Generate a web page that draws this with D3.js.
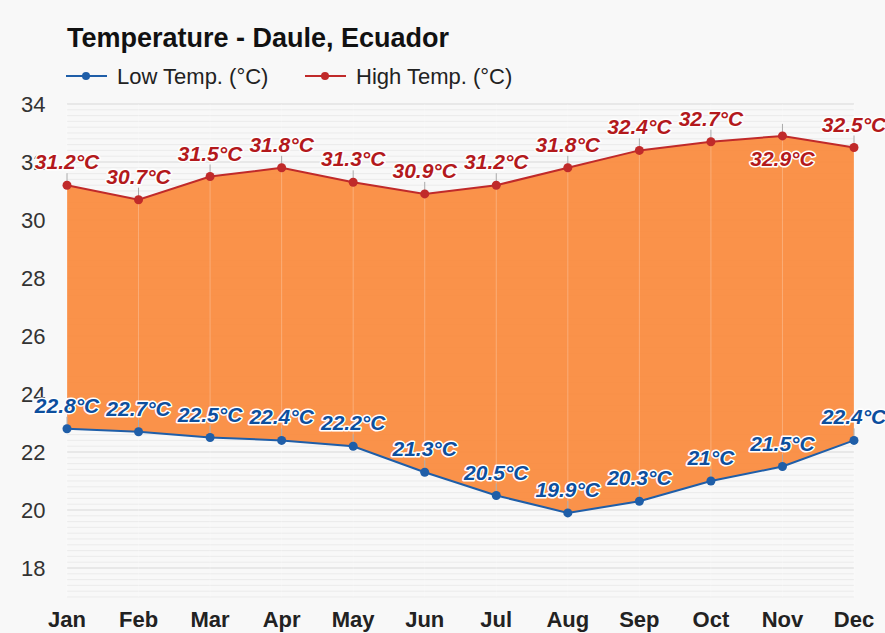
<!DOCTYPE html>
<html>
<head>
<meta charset="utf-8">
<script src="https://cdn.jsdelivr.net/npm/d3@7"></script>
<style>
  body { margin: 0; background: #f8f8f8; }
  svg { display: block; font-family: "Liberation Sans", Arial, sans-serif; }
</style>
</head>
<body>
<svg id="chart" width="885" height="633"></svg>
<script>
const months = ['Jan','Feb','Mar','Apr','May','Jun','Jul','Aug','Sep','Oct','Nov','Dec'];
const highTemp = [31.2, 30.7, 31.5, 31.8, 31.3, 30.9, 31.2, 31.8, 32.4, 32.7, 32.9, 32.5];
const lowTemp = [22.8, 22.7, 22.5, 22.4, 22.2, 21.3, 20.5, 19.9, 20.3, 21, 21.5, 22.4];
const yTicks = [18, 20, 22, 24, 26, 28, 30, 32, 34];
// label below the point instead of above (Nov high)
const highBelow = [false, false, false, false, false, false, false, false, false, false, true, false];

const svg = d3.select('#chart');
const margin = {left: 67, right: 31};
const W = 885;

const x = d3.scalePoint().domain(months).range([margin.left, W - margin.right]);
const y = d3.scaleLinear().domain([17, 34]).range([597, 104]);

const data = months.map((m, i) => ({m, hi: highTemp[i], lo: lowTemp[i], below: highBelow[i]}));

// minor grid
const minor = d3.range(17, 34.01, 0.2);
svg.append('g').selectAll('line').data(minor).join('line')
  .attr('x1', margin.left).attr('x2', W - margin.right)
  .attr('y1', d => y(d)).attr('y2', d => y(d))
  .attr('stroke', '#ebebeb').attr('stroke-width', 1);
// major grid
svg.append('g').selectAll('line').data(yTicks).join('line')
  .attr('x1', margin.left).attr('x2', W - margin.right)
  .attr('y1', d => y(d)).attr('y2', d => y(d))
  .attr('stroke', '#dedede').attr('stroke-width', 1);

// area between low and high
const area = d3.area()
  .x(d => x(d.m))
  .y0(d => y(d.lo))
  .y1(d => y(d.hi));
svg.append('path').datum(data)
  .attr('d', area)
  .attr('fill', '#fa8c40')
  .attr('fill-opacity', 0.95);

// vertical grid on months
svg.append('g').selectAll('line').data(months).join('line')
  .attr('x1', d => x(d)).attr('x2', d => x(d))
  .attr('y1', 104).attr('y2', 597)
  .attr('stroke', '#ffffff').attr('stroke-opacity', 0.25);

// y axis labels
svg.append('g').selectAll('text').data(yTicks).join('text')
  .attr('x', 21).attr('y', d => y(d) + 8)
  .attr('font-size', 22).attr('fill', '#333')
  .text(d => d);

// x axis labels
svg.append('g').selectAll('text').data(months).join('text')
  .attr('x', d => x(d)).attr('y', 627)
  .attr('text-anchor', 'middle')
  .attr('font-size', 22).attr('font-weight', 'bold').attr('fill', '#222')
  .text(d => d);

function drawSeries(key, lineColor, textColor) {
  const line = d3.line().x(d => x(d.m)).y(d => y(d[key]));
  // leader ticks
  svg.append('g').selectAll('line').data(data).join('line')
    .attr('x1', d => x(d.m)).attr('x2', d => x(d.m))
    .attr('y1', d => y(d[key]))
    .attr('y2', d => y(d[key]) - 12)
    .attr('stroke', '#aaa').attr('stroke-width', 1);
  svg.append('path').datum(data)
    .attr('d', line)
    .attr('fill', 'none')
    .attr('stroke', lineColor)
    .attr('stroke-width', 2);
  svg.append('g').selectAll('circle').data(data).join('circle')
    .attr('cx', d => x(d.m)).attr('cy', d => y(d[key]))
    .attr('r', 4.5).attr('fill', lineColor);
  svg.append('g').selectAll('text').data(data).join('text')
    .attr('x', d => x(d.m))
    .attr('y', d => (key === 'hi' && d.below) ? y(d[key]) + 30 : y(d[key]) - 16)
    .attr('text-anchor', 'middle')
    .attr('font-size', 21).attr('font-weight', 'bold').attr('font-style', 'italic')
    .attr('fill', textColor)
    .attr('stroke', '#fff').attr('stroke-width', 3).attr('paint-order', 'stroke')
    .attr('stroke-linejoin', 'round')
    .text(d => d[key] + '°C');
}
drawSeries('lo', '#1f5ea8', '#0d4f9e');
drawSeries('hi', '#c02a2a', '#b3191c');

// title
svg.append('text')
  .attr('x', 67).attr('y', 47)
  .attr('font-size', 27).attr('font-weight', 'bold').attr('fill', '#111')
  .text('Temperature - Daule, Ecuador');

// legend
const legend = [
  {label: 'Low Temp. (°C)', color: '#1f5ea8', x: 66},
  {label: 'High Temp. (°C)', color: '#c02a2a', x: 305}
];
const lg = svg.append('g').selectAll('g').data(legend).join('g')
  .attr('transform', d => `translate(${d.x},76)`);
lg.append('line').attr('x1', 0).attr('x2', 41)
  .attr('stroke', d => d.color).attr('stroke-width', 2);
lg.append('circle').attr('cx', 20).attr('r', 4).attr('fill', d => d.color);
lg.append('text').attr('x', 51).attr('y', 8)
  .attr('font-size', 22).attr('fill', '#222')
  .text(d => d.label);
</script>
</body>
</html>
